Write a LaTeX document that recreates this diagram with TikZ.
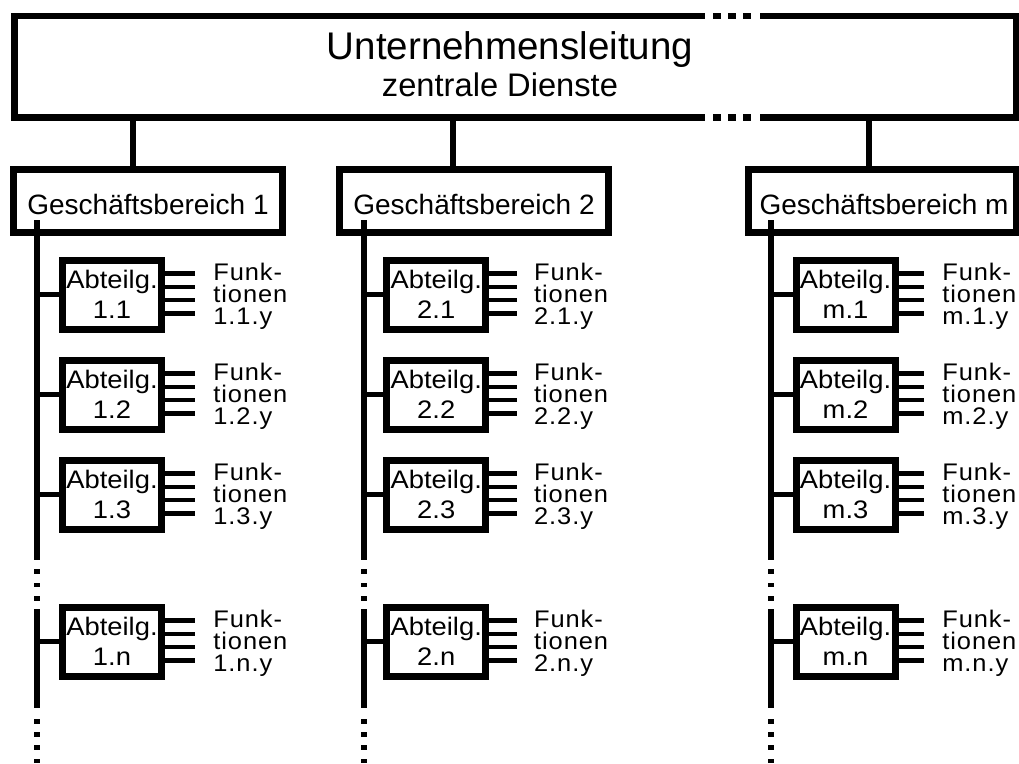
\documentclass[tikz,border=0pt]{standalone}
\usepackage{fontspec}
\usetikzlibrary{calc}
\setmainfont{Liberation Sans}
\newfontfamily\abtfont[FakeStretch=1.08]{Liberation Sans}
\newfontfamily\funfont[FakeStretch=1.06,LetterSpace=4]{Liberation Sans}
\begin{document}
\begin{tikzpicture}[x=0.75pt,y=-0.75pt,
  topbox/.style={draw, line width=4.9pt, minimum width=751.1pt, minimum height=76.1pt, inner sep=0pt},
  gbbox/.style={draw, line width=5.25pt, minimum width=202pt, minimum height=47.6pt, inner sep=0pt},
  gbtext/.style={anchor=base, inner sep=0pt, font=\fontsize{21}{24}\selectfont},
  abtbox/.style={draw, line width=5.25pt, minimum width=74.25pt, minimum height=51.75pt, inner sep=0pt,
    align=center, font=\abtfont\fontsize{19}{22.5}\selectfont},
  funtext/.style={anchor=north west, inner sep=0pt, align=left, font=\funfont\fontsize{18}{16.5}\selectfont},
  conn/.style={line width=4.5pt},
  bus/.style={line width=4.5pt},
  branch/.style={line width=3.75pt},
  stub/.style={line width=3.4pt},
]
\useasboundingbox (0,0) rectangle (1019,763);
\fill[white] (0,0) rectangle (1019,763);

% head office box, its top and bottom edges broken by three dots
\node[topbox] (top) at (515.25,66.75) {};
\fill[white] (705,10) rectangle (760,23);
\fill[white] (705,111) rectangle (760,124);
\foreach \x in {713,728,743} {
  \fill (\x,12.75) rectangle (\x+8,19.25);
  \fill (\x,114.25) rectangle (\x+8,120.75);
}
\node[anchor=base, inner sep=0pt, font=\fontsize{28.9}{32}\selectfont] (title) at (510,60) {Unternehmensleitung};
\node[anchor=base, inner sep=0pt, font=\fontsize{24.5}{27}\selectfont] (subtitle) at (500,97) {zentrale Dienste};

% business divisions
\node[gbbox] (gb1) at (148.25,201.25) {};
\node[gbbox] (gb2) at (474,201.25) {};
\node[gbbox, minimum width=201pt] (gbm) at (882,201.25) {};
\node[gbtext] (gb1t) at (148,214) {Geschäftsbereich 1};
\node[gbtext] (gb2t) at (474,214) {Geschäftsbereich 2};
\node[gbtext] (gbmt) at (884,214) {Geschäftsbereich m};

\coordinate (c1) at ($(gb1.north)+(-15.25,0)$);
\coordinate (c2) at ($(gb2.north)+(-21.5,0)$);
\coordinate (cm) at ($(gbm.north)+(-13,0)$);
\foreach \cc in {c1,c2,cm}
  \draw[conn] (\cc) -- (\cc |- top.south);

% departments with their function stubs
\foreach \cn/\bx/\ax/\tx/\sl in {1/37/112/48/30, 2/364/436.25/44.5/28, m/771/845.5/43.5/25} {
  \coordinate (bus\cn) at (\bx,220);
  \draw[bus] (bus\cn) -- (\bx,560);
  \draw[bus] (\bx,609) -- (\bx,708);
  \foreach \y in {569,582.5,596,719,732,745,758.5}
    \fill (\bx-3,\y) rectangle (\bx+3,\y+4.5);
  \foreach \rn/\ay in {1/294.5,2/394.5,3/494.5,n/641.5} {
    \node[abtbox] (abt\cn\rn) at (\ax,\ay) {Abteilg.\\\cn.\rn};
    \draw[branch] (bus\cn |- abt\cn\rn.west) -- (abt\cn\rn.west);
    \foreach \dy in {-20,-6.67,6.67,20}
      \draw[stub] ($(abt\cn\rn.east)+(0,\dy-1)$) -- ++(\sl,0);
    \node[funtext] (fun\cn\rn) at ($(abt\cn\rn.east)+(\tx,-31.5)$) {Funk-\\tionen\\\cn.\rn.y};
  }
}
\end{tikzpicture}
\end{document}
